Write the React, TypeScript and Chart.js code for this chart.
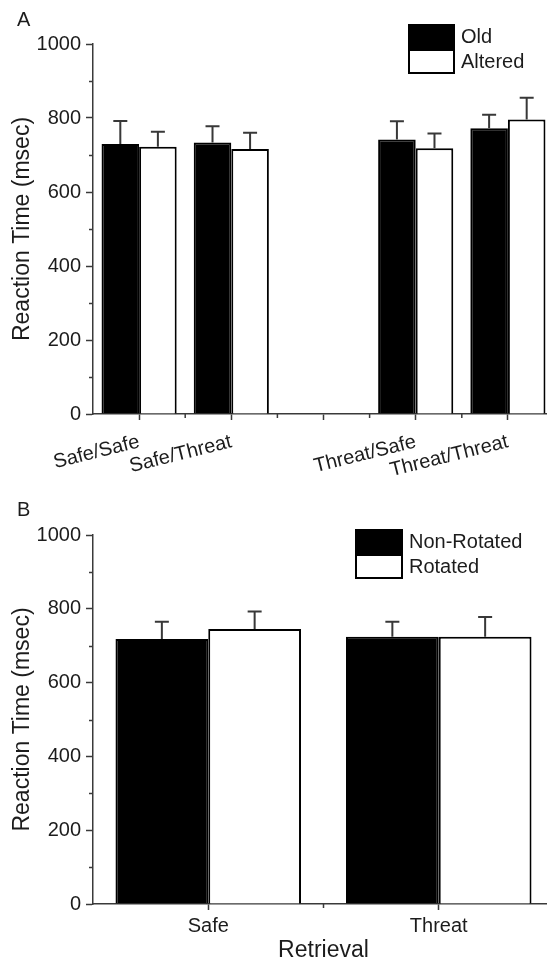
import React, { useEffect, useRef } from "react";
import { Chart, registerables } from "chart.js";

Chart.register(...registerables);

// ---------- data ----------
const categoriesA = ["Safe/Safe", "Safe/Threat", "", "Threat/Safe", "Threat/Threat"];
const oldValues = [730, 734, null, 742, 772];
const oldErrors = [62, 44, null, 49, 37];
const alteredValues = [722, 716, null, 718, 796];
const alteredErrors = [41, 44, null, 40, 59];

const categoriesB = ["Safe", "Threat"];
const nonRotatedValues = [718, 724];
const nonRotatedErrors = [47, 41];
const rotatedValues = [745, 724];
const rotatedErrors = [48, 54];

const yTickValues = [0, 200, 400, 600, 800, 1000];

// ---------- styles ----------
const FONT = "'Liberation Sans', Arial, Helvetica, sans-serif";
const TEXT = "#1c1c1c";
const AXIS = "#3a3a3a";

const errorBarPlugin = {
  id: "errorBars",
  afterDatasetsDraw(chart: any) {
    const { ctx } = chart;
    const yScale = chart.scales.y;
    chart.data.datasets.forEach((ds: any, i: number) => {
      const meta = chart.getDatasetMeta(i);
      meta.data.forEach((el: any, j: number) => {
        const v = ds.data[j];
        const e = ds.errors ? ds.errors[j] : null;
        if (v == null || e == null) return;
        const x = el.x;
        const y0 = yScale.getPixelForValue(v);
        const y1 = yScale.getPixelForValue(v + e);
        ctx.save();
        ctx.strokeStyle = "#383838";
        ctx.lineWidth = 2;
        ctx.beginPath();
        ctx.moveTo(x, y0);
        ctx.lineTo(x, y1);
        ctx.moveTo(x - 7, y1);
        ctx.lineTo(x + 7, y1);
        ctx.stroke();
        ctx.restore();
      });
    });
  },
};

const minorTickPlugin = {
  id: "minorTicks",
  afterDraw(chart: any) {
    const { ctx } = chart;
    const x = chart.scales.x;
    const y = chart.scales.y;
    ctx.save();
    ctx.strokeStyle = AXIS;
    ctx.lineWidth = 1.5;
    ctx.beginPath();
    for (let v = 100; v < 1000; v += 200) {
      const py = Math.round(y.getPixelForValue(v)) + 0.5;
      ctx.moveTo(x.left, py);
      ctx.lineTo(x.left - 4, py);
    }
    const n = chart.data.labels.length;
    for (let i = 0; i < n - 1; i++) {
      const px = (x.getPixelForTick(i) + x.getPixelForTick(i + 1)) / 2;
      ctx.moveTo(px, y.bottom);
      ctx.lineTo(px, y.bottom + 4);
    }
    ctx.stroke();
    ctx.restore();
  },
};

const overlayPlugin = {
  id: "overlay",
  afterDraw(chart: any, _args: any, opts: any) {
    const { ctx } = chart;
    ctx.save();
    // panel letter
    ctx.fillStyle = TEXT;
    ctx.font = `20px ${FONT}`;
    ctx.textAlign = "left";
    ctx.textBaseline = "alphabetic";
    ctx.fillText(opts.panel, 17, opts.panelY);
    // legend
    const ds = chart.data.datasets;
    const bx = opts.legendX;
    const by = opts.legendY;
    const bw = opts.boxW;
    const bh = 25;
    ds.forEach((d: any, i: number) => {
      const top = by + i * bh;
      ctx.fillStyle = d.backgroundColor;
      ctx.fillRect(bx, top, bw, bh);
      ctx.strokeStyle = "#000";
      ctx.lineWidth = 2;
      ctx.strokeRect(bx + 1, top + 1, bw - 2, bh - 2);
      ctx.fillStyle = TEXT;
      ctx.font = `20px ${FONT}`;
      ctx.textBaseline = "middle";
      ctx.fillText(d.label, bx + bw + 6, top + bh / 2 + 1);
    });
    ctx.restore();
  },
};

function baseOptions(cfg: any) {
  return {
    animation: false,
    responsive: false,
    maintainAspectRatio: false,
    events: [],
    layout: { padding: { left: 0, right: 6, top: cfg.top, bottom: 0 } },
    datasets: { bar: { categoryPercentage: cfg.catPct, barPercentage: 1 } },
    plugins: {
      legend: { display: false },
      tooltip: { enabled: false },
      overlay: cfg.overlay,
    },
    scales: {
      x: {
        offset: true,
        grid: {
          display: true,
          drawOnChartArea: false,
          offset: false,
          drawTicks: true,
          tickLength: 6,
          tickColor: AXIS,
          tickWidth: 1.5,
        },
        border: { display: true, color: AXIS, width: 1.5 },
        ticks: {
          autoSkip: false,
          font: { family: FONT, size: 20 },
          color: TEXT,
          minRotation: cfg.rotation,
          maxRotation: cfg.rotation,
          padding: cfg.xPad,
        },
        title: cfg.xTitle
          ? {
              display: true,
              text: cfg.xTitle,
              font: { family: FONT, size: 23 },
              color: TEXT,
              padding: { top: 0, bottom: 1 },
            }
          : { display: false },
        afterFit: (s: any) => {
          s.height = cfg.xHeight;
        },
      },
      y: {
        min: 0,
        max: 1000,
        afterBuildTicks: (s: any) => {
          s.ticks = yTickValues.map((v) => ({ value: v }));
        },
        grid: {
          display: true,
          drawOnChartArea: false,
          drawTicks: true,
          tickLength: 7,
          tickColor: AXIS,
          tickWidth: 1.5,
        },
        border: { display: true, color: AXIS, width: 1.5 },
        ticks: {
          font: { family: FONT, size: 20 },
          color: TEXT,
          padding: 5,
          callback: (v: any) => String(v),
        },
        title: {
          display: true,
          text: "Reaction Time (msec)",
          font: { family: FONT, size: 23 },
          color: TEXT,
          padding: { top: 9, bottom: 0 },
        },
        afterFit: (s: any) => {
          s.width = 93;
        },
      },
    },
  };
}

function makeDatasets(labels: string[], vals: any[][], errs: any[][]) {
  const fills = ["#000000", "#ffffff"];
  return labels.map((l, i) => ({
    label: l,
    data: vals[i],
    errors: errs[i],
    backgroundColor: fills[i],
    borderColor: "#000000",
    borderWidth: 2,
    borderSkipped: "start",
  }));
}

export default function App() {
  const refA = useRef<HTMLCanvasElement | null>(null);
  const refB = useRef<HTMLCanvasElement | null>(null);

  useEffect(() => {
    const chartA = new Chart(refA.current as HTMLCanvasElement, {
      type: "bar",
      data: {
        labels: categoriesA,
        datasets: makeDatasets(["Old", "Altered"], [oldValues, alteredValues], [oldErrors, alteredErrors]) as any,
      },
      options: baseOptions({
        top: 44,
        catPct: 0.815,
        rotation: 14,
        xPad: 10,
        xHeight: 71,
        xTitle: null,
        overlay: { panel: "A", panelY: 26, legendX: 408, legendY: 24, boxW: 47 },
      }) as any,
      plugins: [errorBarPlugin, minorTickPlugin, overlayPlugin],
    });
    const chartB = new Chart(refB.current as HTMLCanvasElement, {
      type: "bar",
      data: {
        labels: categoriesB,
        datasets: makeDatasets(
          ["Non-Rotated", "Rotated"],
          [nonRotatedValues, rotatedValues],
          [nonRotatedErrors, rotatedErrors]
        ) as any,
      },
      options: baseOptions({
        top: 50,
        catPct: 0.805,
        rotation: 0,
        xPad: 4,
        xHeight: 61,
        xTitle: "Retrieval",
        overlay: { panel: "B", panelY: 31, legendX: 355, legendY: 44, boxW: 48 },
      }) as any,
      plugins: [errorBarPlugin, minorTickPlugin, overlayPlugin],
    });
    return () => {
      chartA.destroy();
      chartB.destroy();
    };
  }, []);

  return (
    <div
      style={{
        position: "fixed",
        left: 0,
        top: 0,
        width: 547,
        height: 965,
        overflow: "hidden",
        background: "#ffffff",
      }}
    >
      <canvas ref={refA} width={560} height={485} style={{ display: "block", width: 560, height: 485 }} />
      <canvas ref={refB} width={560} height={480} style={{ display: "block", width: 560, height: 480 }} />
    </div>
  );
}
